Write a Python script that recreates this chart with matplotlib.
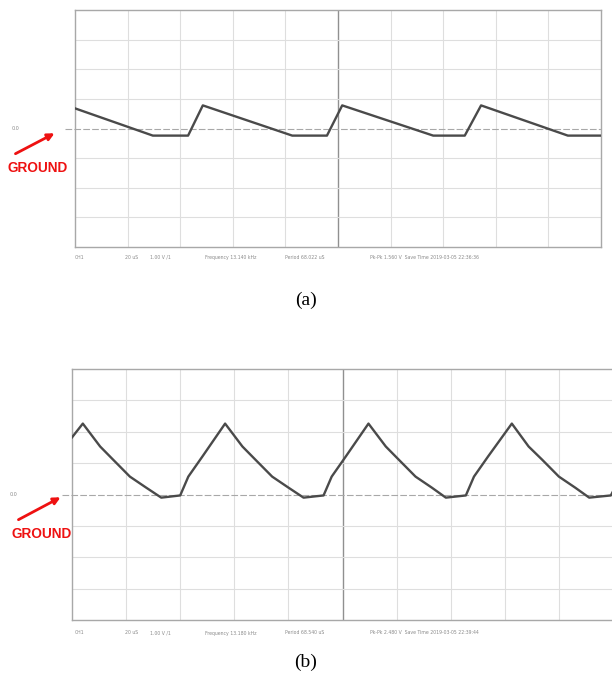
import matplotlib.pyplot as plt
import numpy as np

W, H = 612, 675

# waveform (a): x in divisions (0-10), y in divisions from ground
xa = [0.0, 1.48, 2.15, 2.43, 4.13, 4.79, 5.08, 6.81, 7.41, 7.72, 9.37, 10.0]
ya = [0.68, -0.24, -0.24, 0.78, -0.24, -0.24, 0.78, -0.24, -0.24, 0.78, -0.24, -0.24]

# waveform (b)
xb = [0.0, 0.20, 0.52, 0.76, 1.07, 1.37, 1.65, 2.00, 2.15, 2.41, 2.83,
      3.15, 3.39, 3.70, 4.00, 4.28, 4.65, 4.80, 5.06, 5.48,
      5.80, 6.04, 6.35, 6.65, 6.91, 7.28, 7.43, 7.69, 8.13,
      8.44, 8.69, 9.00, 9.30, 9.56, 9.96, 10.0]
yb = [1.82, 2.26, 1.53, 1.11, 0.57, 0.22, -0.10, -0.03, 0.57, 1.21, 2.26,
      1.53, 1.11, 0.57, 0.22, -0.10, -0.03, 0.57, 1.21, 2.26,
      1.53, 1.11, 0.57, 0.22, -0.10, -0.03, 0.57, 1.21, 2.26,
      1.53, 1.11, 0.57, 0.22, -0.10, -0.03, 0.10]

footer_a = ["CH1", "20 uS", "1.00 V /1", "Frequency 13.140 kHz", "Period 68.022 uS",
            "Pk-Pk 1.560 V  Save Time 2019-03-05 22:36:36"]
footer_b = ["CH1", "20 uS", "1.00 V /1", "Frequency 13.180 kHz", "Period 68.540 uS",
            "Pk-Pk 2.480 V  Save Time 2019-03-05 22:39:44"]
footer_px = [75, 125, 150, 205, 285, 370]


def fp(x, y):
    # pixel -> figure fraction
    return (x / W, 1 - y / H)


def scope(ax, xs, ys):
    ax.set_xlim(0, 10)
    ax.set_ylim(-4, 4)
    for i in range(1, 10):
        ax.axvline(i, color='#909090' if i == 5 else '#dedede',
                   lw=1.0 if i == 5 else 0.8, zorder=1)
    for j in range(-3, 4):
        if j != 0:
            ax.axhline(j, color='#dedede', lw=0.8, zorder=1)
    # ground reference
    ax.plot([-0.19, 10], [0, 0], color='#a8a8a8', lw=0.8, ls=(0, (6, 2)),
            clip_on=False, zorder=2)
    ax.plot(xs, ys, color='#4a4a4a', lw=1.7, zorder=3)
    ax.set_xticks([])
    ax.set_yticks([])
    for s in ax.spines.values():
        s.set_color('#a8a8a8')
        s.set_linewidth(1.0)


fig = plt.figure(figsize=(W / 100, H / 100), dpi=100)

ax1 = fig.add_axes([75 / W, 1 - 247 / H, 526 / W, 237 / H])
scope(ax1, xa, ya)
ax2 = fig.add_axes([72 / W, 1 - 620 / H, 541 / W, 251 / H])
scope(ax2, xb, yb)

for (gx, gy), (tx, ty), (hx, hy), (lx, ly) in [
        ((38, 168), (13, 155), (57, 132), (15, 128)),
        ((42, 534), (16, 521), (63, 496), (13, 495))]:
    fig.text(*fp(gx, gy), "GROUND", color='#ee1111', fontsize=9.8,
             fontweight='bold', ha='center', va='center', family='Liberation Sans')
    fig.text(*fp(lx, ly), "0.0", color='#888888', fontsize=3.5,
             ha='center', va='center')
    fig.add_artist(plt.Annotation("", xy=fp(hx, hy), xytext=fp(tx, ty),
                                  xycoords='figure fraction',
                                  textcoords='figure fraction',
                                  arrowprops=dict(arrowstyle='-|>', color='#ee1111',
                                                  lw=2.0, mutation_scale=10)))

for labels, fy in [(footer_a, 257), (footer_b, 633)]:
    for lab, px in zip(labels, footer_px):
        fig.text(*fp(px, fy), lab, color='#8a8a8a', fontsize=3.3,
                 ha='left', va='center')

fig.text(*fp(306, 300), "(a)", fontsize=14, family='Liberation Serif',
         ha='center', va='center')
fig.text(*fp(306, 662), "(b)", fontsize=14, family='Liberation Serif',
         ha='center', va='center')

fig.savefig("out.png", dpi=100)
